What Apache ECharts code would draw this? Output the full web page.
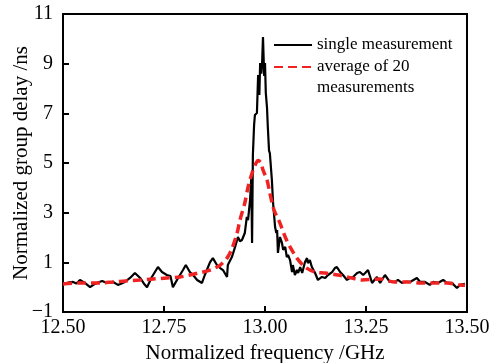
<!DOCTYPE html>
<html>
<head>
<meta charset="utf-8">
<script src="https://cdn.jsdelivr.net/npm/echarts@6/dist/echarts.min.js"></script>
<style>
  html, body { margin: 0; padding: 0; background: #fff; }
  #chart { width: 489px; height: 363px; }
</style>
</head>
<body>
<div id="chart"></div>
<script>
// single measurement (GHz, ns)
const freqSingle = [
  12.500, 12.512, 12.525, 12.533, 12.542, 12.554, 12.567, 12.579, 12.588, 12.597,
  12.609, 12.624, 12.636, 12.645, 12.653, 12.666, 12.678, 12.691, 12.700, 12.708,
  12.720, 12.735, 12.745, 12.757, 12.766, 12.772, 12.785, 12.797, 12.804, 12.814,
  12.822, 12.832, 12.844, 12.851, 12.864, 12.871, 12.881, 12.889, 12.896, 12.906,
  12.908, 12.918, 12.926, 12.933, 12.938, 12.943, 12.950, 12.955, 12.958, 12.963,
  12.966, 12.968, 12.970, 12.973, 12.975, 12.980, 12.983, 12.986, 12.988, 12.991,
  12.993, 12.995, 12.998, 13.000, 13.002, 13.005, 13.007, 13.010, 13.012, 13.017,
  13.020, 13.025, 13.028, 13.030, 13.032, 13.037, 13.042, 13.045, 13.050, 13.054,
  13.057, 13.062, 13.067, 13.069, 13.074, 13.079, 13.082, 13.087, 13.092, 13.094,
  13.099, 13.104, 13.106, 13.111, 13.116, 13.124, 13.131, 13.141, 13.149, 13.156,
  13.166, 13.173, 13.178, 13.186, 13.193, 13.203, 13.210, 13.218, 13.228, 13.235,
  13.243, 13.248, 13.255, 13.265, 13.277, 13.285, 13.297, 13.309, 13.322, 13.329,
  13.339, 13.347, 13.359, 13.376, 13.384, 13.396, 13.408, 13.416, 13.428, 13.441,
  13.450, 13.463, 13.475, 13.483, 13.495
];
const delaySingle = [
  0.13, 0.18, 0.21, 0.15, 0.29, 0.17, 0.00, 0.13, 0.20, 0.25,
  0.17, 0.21, 0.09, 0.15, 0.21, 0.37, 0.57, 0.37, 0.15, 0.00,
  0.41, 0.81, 0.61, 0.49, 0.45, 0.00, 0.37, 0.69, 0.89, 0.61,
  0.49, 0.29, 0.17, 0.49, 1.01, 1.17, 0.89, 0.77, 0.69, 0.41,
  0.89, 1.21, 1.62, 2.02, 1.85, 1.90, 2.18, 2.83, 2.70, 3.51,
  4.40, 1.78, 5.32, 6.53, 6.93, 7.01, 8.54, 7.74, 9.03, 8.60,
  9.10, 10.07, 8.50, 9.03, 7.82, 7.22, 6.45, 5.50, 5.40, 4.32,
  3.39, 2.42, 2.18, 2.30, 1.38, 2.02, 1.78, 1.50, 1.62, 1.21,
  1.30, 1.09, 0.61, 0.89, 0.49, 0.69, 0.57, 0.81, 0.57, 0.61,
  1.01, 1.17, 0.97, 1.09, 0.81, 0.57, 0.29, 0.41, 0.37, 0.49,
  0.61, 0.77, 0.81, 0.61, 0.49, 0.29, 0.37, 0.41, 0.57, 0.61,
  0.49, 0.57, 0.69, 0.17, 0.41, 0.17, 0.49, 0.21, 0.21, 0.29,
  0.17, 0.21, 0.21, 0.37, 0.21, 0.21, 0.09, 0.21, 0.17, 0.29,
  0.17, 0.17, -0.03, 0.09, 0.13
];

// average of 20 measurements
const freqAvg = [
  12.500, 12.542, 12.592, 12.624, 12.656, 12.691, 12.723, 12.757, 12.790, 12.830,
  12.864, 12.889, 12.906, 12.918, 12.931, 12.938, 12.950, 12.958, 12.968, 12.978,
  12.983, 12.990, 12.995, 13.005, 13.012, 13.020, 13.025, 13.037, 13.050, 13.062,
  13.079, 13.099, 13.124, 13.149, 13.181, 13.215, 13.240, 13.285, 13.319, 13.354,
  13.384, 13.416, 13.450, 13.483, 13.495
];
const delayAvg = [
  0.13, 0.17, 0.17, 0.21, 0.25, 0.29, 0.33, 0.37, 0.41, 0.55,
  0.69, 0.89, 1.17, 1.55, 2.18, 2.70, 3.39, 4.03, 4.60, 5.00,
  5.10, 5.00, 4.72, 4.32, 3.79, 3.23, 3.00, 2.58, 2.02, 1.62,
  1.17, 0.81, 0.61, 0.57, 0.49, 0.37, 0.29, 0.33, 0.21, 0.21,
  0.17, 0.17, 0.17, 0.09, 0.08
];

const yTicks = [-1, 1, 3, 5, 7, 9, 11];

const serif = '"Liberation Serif", "DejaVu Serif", serif';

const chart = echarts.init(document.getElementById('chart'));
chart.setOption({
  animation: false,
  grid: {
    left: 63, right: 22, top: 14, bottom: 51,
    outerBoundsMode: 'none',
    show: true, borderColor: '#000', borderWidth: 2
  },
  legend: {
    orient: 'vertical',
    left: 273,
    top: 34.5,
    padding: 0,
    itemGap: -20,
    itemWidth: 38,
    itemHeight: 14,
    itemStyle: { opacity: 0 },
    textStyle: {
      fontFamily: serif, fontSize: 17, color: '#000', lineHeight: 21,
      rich: { a: { fontFamily: serif, fontSize: 17, color: '#000', lineHeight: 21 } }
    },
    formatter: name => name.indexOf('\n') < 0
      ? name
      : name.split('\n').map(s => '{a|' + s + '}').join('\n'),
    data: [
      { name: 'single measurement' },
      { name: 'average of 20\nmeasurements', textStyle: { padding: [21, 0, 0, 0] } }
    ]
  },
  xAxis: {
    type: 'value',
    min: 12.5,
    max: 13.5,
    interval: 0.25,
    name: 'Normalized frequency /GHz',
    nameLocation: 'middle',
    nameGap: 27,
    nameTextStyle: { fontFamily: serif, fontSize: 21, color: '#000' },
    axisLine: { onZero: false, lineStyle: { color: '#000', width: 2 } },
    axisTick: { inside: true, length: 6, lineStyle: { color: '#000', width: 2 } },
    axisLabel: {
      fontFamily: serif, fontSize: 20, color: '#000', margin: 6,
      formatter: v => v.toFixed(2)
    },
    splitLine: { show: false }
  },
  yAxis: {
    type: 'value',
    min: -1,
    max: 11,
    name: 'Normalized group delay /ns',
    nameLocation: 'middle',
    nameGap: 31,
    nameMoveOverlap: false,
    nameTextStyle: { fontFamily: serif, fontSize: 21, color: '#000' },
    axisLine: { show: true, onZero: false, lineStyle: { color: '#000', width: 2 } },
    axisTick: { show: true, inside: true, length: 6, customValues: yTicks, lineStyle: { color: '#000', width: 2 } },
    axisLabel: {
      fontFamily: serif, fontSize: 20, color: '#000', margin: 10,
      customValues: yTicks,
      formatter: v => (v < 0 ? '\u2212' + Math.abs(v) : String(v))
    },
    splitLine: { show: false }
  },
  series: [
    {
      name: 'single measurement',
      type: 'line',
      showSymbol: false,
      symbol: 'none',
      lineStyle: { color: '#000', width: 2.2 },
      itemStyle: { color: '#000' },
      data: freqSingle.map((f, i) => [f, delaySingle[i]])
    },
    {
      name: 'average of 20\nmeasurements',
      type: 'line',
      showSymbol: false,
      symbol: 'none',
      smooth: 0.3,
      lineStyle: { color: '#f02222', width: 3.5, type: [9, 5] },
      itemStyle: { color: '#f02222' },
      data: freqAvg.map((f, i) => [f, delayAvg[i]])
    }
  ]
});
</script>
</body>
</html>
